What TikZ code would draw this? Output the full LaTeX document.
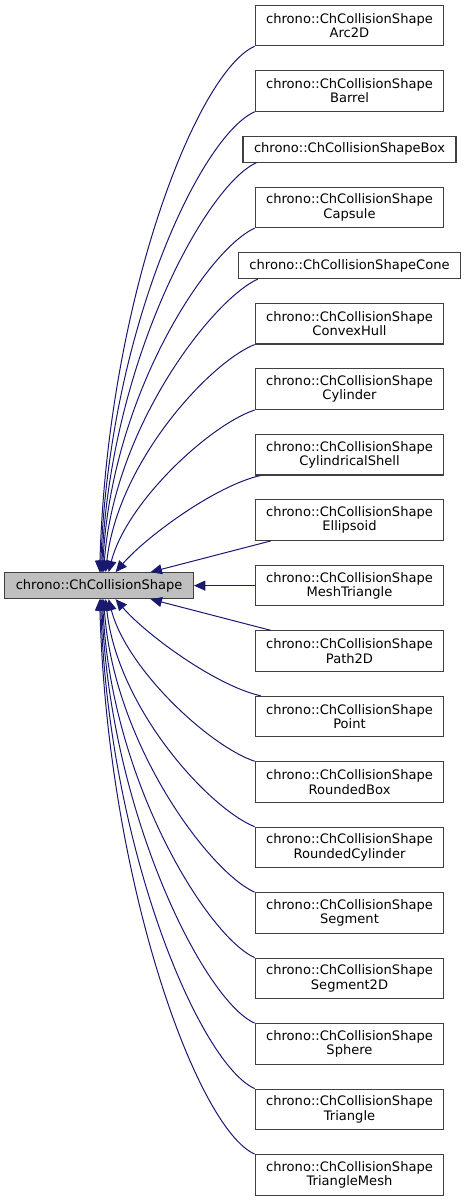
\documentclass[tikz,border=0pt]{standalone}
\usepackage{fontspec}
\setmainfont{DejaVu Sans}
\usetikzlibrary{arrows.meta,positioning}
\definecolor{edgeblue}{HTML}{191970}
\definecolor{boxline}{HTML}{404040}
\definecolor{basefill}{HTML}{BFBFBF}

\begin{document}
\begin{tikzpicture}[x=0.75pt,y=-0.75pt,node distance=17.9pt,
  cls/.style={draw=boxline,line width=0.8pt,fill=white,align=center,inner xsep=8.25pt,inner ysep=0pt,
    minimum height=30.4pt,font=\fontsize{9.8pt}{10.7pt}\selectfont},
  cls1/.style={cls,minimum height=19.5pt},
  base/.style={cls1,fill=basefill},
  inh/.style={draw=edgeblue,line width=0.75pt,-{Triangle[length=8.5pt,width=7.5pt]}}]
  \useasboundingbox (0,0) rectangle (465,1201);
  \node[cls]  (arc)      at (349.5,25.5)       {chrono::ChCollisionShape\\Arc2D};
  \node[cls]  (barrel)   [below=of arc]        {chrono::ChCollisionShape\\Barrel};
  \node[cls1] (box)      [below=of barrel]     {chrono::ChCollisionShapeBox};
  \node[cls]  (capsule)  [below=of box]        {chrono::ChCollisionShape\\Capsule};
  \node[cls1] (cone)     [below=of capsule]    {chrono::ChCollisionShapeCone};
  \node[cls]  (hull)     [below=of cone]       {chrono::ChCollisionShape\\ConvexHull};
  \node[cls]  (cyl)      [below=of hull]       {chrono::ChCollisionShape\\Cylinder};
  \node[cls]  (shell)    [below=of cyl]        {chrono::ChCollisionShape\\CylindricalShell};
  \node[cls]  (ellipsoid)[below=of shell]      {chrono::ChCollisionShape\\Ellipsoid};
  \node[cls]  (mesh)     [below=of ellipsoid]  {chrono::ChCollisionShape\\MeshTriangle};
  \node[cls]  (path)     [below=of mesh]       {chrono::ChCollisionShape\\Path2D};
  \node[cls]  (point)    [below=of path]       {chrono::ChCollisionShape\\Point};
  \node[cls]  (rbox)     [below=of point]      {chrono::ChCollisionShape\\RoundedBox};
  \node[cls]  (rcyl)     [below=of rbox]       {chrono::ChCollisionShape\\RoundedCylinder};
  \node[cls]  (seg)      [below=of rcyl]       {chrono::ChCollisionShape\\Segment};
  \node[cls]  (seg2)     [below=of seg]        {chrono::ChCollisionShape\\Segment2D};
  \node[cls]  (sphere)   [below=of seg2]       {chrono::ChCollisionShape\\Sphere};
  \node[cls]  (tri)      [below=of sphere]     {chrono::ChCollisionShape\\Triangle};
  \node[cls]  (trimesh)  [below=of tri]        {chrono::ChCollisionShape\\TriangleMesh};
  \node[base] (shape)    [left=45.5pt of mesh] {chrono::ChCollisionShape};
  % upper children
  \draw[inh] (arc.south west) .. controls +(-57,25) and +(8,-275) .. ([xshift=0.4pt]shape.north);
  \draw[inh] (barrel.south west) .. controls +(-55,25) and +(8,-240) .. ([xshift=1.1pt]shape.north);
  \draw[inh] ([xshift=10.5pt]box.south west) .. controls +(-50,22) and +(8,-210) .. ([xshift=1.9pt]shape.north);
  \draw[inh] (capsule.south west) .. controls +(-48,22) and +(8,-175) .. ([xshift=2.6pt]shape.north);
  \draw[inh] ([xshift=15pt]cone.south west) .. controls +(-45,20) and +(10,-145) .. ([xshift=3.4pt]shape.north);
  \draw[inh] (hull.south west) .. controls +(-45,18) and +(12,-110) .. ([xshift=4.9pt]shape.north);
  \draw[inh] (cyl.south west) .. controls +(-45,15) and +(18,-70) .. ([xshift=7.1pt]shape.north);
  \draw[inh] ([xshift=4.5pt]shell.south west) .. controls +(-45,10) and +(30,-35) .. ([xshift=12.4pt]shape.north);
  \draw[inh] ([xshift=12pt]ellipsoid.south west) -- ([xshift=38.6pt]shape.north);
  \draw[inh] (mesh) -- (shape);
  % lower children
  \draw[inh] ([xshift=12pt]path.north west) -- ([xshift=38.6pt]shape.south);
  \draw[inh] ([xshift=4.5pt]point.north west) .. controls +(-45,-10) and +(30,35) .. ([xshift=12.4pt]shape.south);
  \draw[inh] (rbox.north west) .. controls +(-45,-15) and +(18,70) .. ([xshift=7.1pt]shape.south);
  \draw[inh] (rcyl.north west) .. controls +(-45,-18) and +(12,110) .. ([xshift=4.9pt]shape.south);
  \draw[inh] (seg.north west) .. controls +(-45,-20) and +(10,145) .. ([xshift=3.4pt]shape.south);
  \draw[inh] (seg2.north west) .. controls +(-48,-22) and +(8,180) .. ([xshift=2.6pt]shape.south);
  \draw[inh] (sphere.north west) .. controls +(-50,-22) and +(8,215) .. ([xshift=1.9pt]shape.south);
  \draw[inh] (tri.north west) .. controls +(-55,-25) and +(8,250) .. ([xshift=1.1pt]shape.south);
  \draw[inh] (trimesh.north west) .. controls +(-57,-25) and +(8,285) .. ([xshift=0.4pt]shape.south);
\end{tikzpicture}
\end{document}
